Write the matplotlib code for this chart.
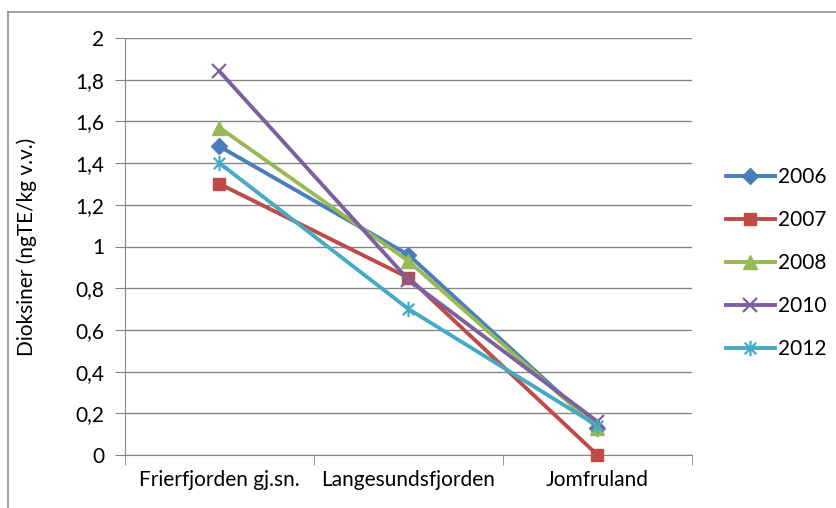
import numpy as np
import matplotlib.pyplot as plt
from matplotlib.path import Path
from matplotlib.lines import Line2D
from matplotlib.ticker import FuncFormatter, FixedLocator

plt.rcParams['font.family'] = ['Lato', 'DejaVu Sans']

stations = ['Frierfjorden gj.sn.', 'Langesundsfjorden', 'Jomfruland']
years = ['2006', '2007', '2008', '2010', '2012']
v2006 = [1.48, 0.96, 0.13]
v2007 = [1.30, 0.85, 0.00]
v2008 = [1.57, 0.93, 0.13]
v2010 = [1.84, 0.84, 0.16]
v2012 = [1.40, 0.70, 0.14]

# asterisk marker: vertical bar plus an x
star = Path([(0, -1), (0, 1), (-0.75, -0.75), (0.75, 0.75), (-0.75, 0.75), (0.75, -0.75)],
            [Path.MOVETO, Path.LINETO, Path.MOVETO, Path.LINETO, Path.MOVETO, Path.LINETO])

styles = [
    ('#4A7EBB', 'D', 8),
    ('#BE4B48', 's', 9),
    ('#98B954', '^', 10),
    ('#7D60A0', 'x', 10),
    ('#46AAC5', star, 11),
]
FS = 15
W, H = 837, 508

fig = plt.figure(figsize=(W / 100, H / 100), dpi=100)
ax = fig.add_axes([125 / W, 1 - 455 / H, 567 / W, 417 / H])

x = np.arange(len(stations))
for year, vals, (col, mk, ms) in zip(years, [v2006, v2007, v2008, v2010, v2012], styles):
    mew = 1.6 if mk in ('x', star) else 1
    ax.plot(x, vals, color=col, lw=2.8, marker=mk, ms=ms, mec=col, mfc=col,
            mew=mew, label=year, clip_on=False, zorder=3)

ax.set_xlim(-0.5, 2.5)
ax.set_ylim(0, 2)
ax.set_yticks(np.arange(0, 2.01, 0.2))
ax.yaxis.set_major_formatter(FuncFormatter(
    lambda v, p: '0' if abs(v) < 1e-9 else ('%g' % round(v, 1)).replace('.', ',')))
ax.grid(axis='y', color='#868686', lw=1)
ax.set_axisbelow(True)

ax.set_xticks(x)
ax.set_xticklabels(stations)
ax.xaxis.set_minor_locator(FixedLocator([-0.5, 0.5, 1.5, 2.5]))
ax.tick_params(axis='x', which='major', length=0, pad=11, labelsize=FS)
ax.tick_params(axis='x', which='minor', length=7, color='#868686', direction='out')
ax.tick_params(axis='y', length=7, color='#868686', labelsize=FS, pad=8)

for side in ('top', 'right'):
    ax.spines[side].set_visible(False)
for side in ('left', 'bottom'):
    ax.spines[side].set_color('#868686')

fig.text(27 / W, 1 - 247 / H, 'Dioksiner (ngTE/kg v.v.)', fontsize=FS,
         rotation=90, ha='center', va='center')

ax.legend(loc='center left', bbox_to_anchor=((726 - 125) / 567, 1 - (263 - 38) / 417),
          frameon=False, fontsize=FS, handlelength=2.35, labelspacing=1.1,
          handletextpad=0.15, borderaxespad=0, borderpad=0)

# chart frame, only the top and left edges fall inside the image
fig.add_artist(Line2D([8 / W, 8 / W], [0, 1 - 12 / H], transform=fig.transFigure,
                      color='#909090', lw=1.2))
fig.add_artist(Line2D([8 / W, 1], [1 - 12 / H, 1 - 12 / H], transform=fig.transFigure,
                      color='#909090', lw=1.2))

fig.savefig('out.png', dpi=100)
